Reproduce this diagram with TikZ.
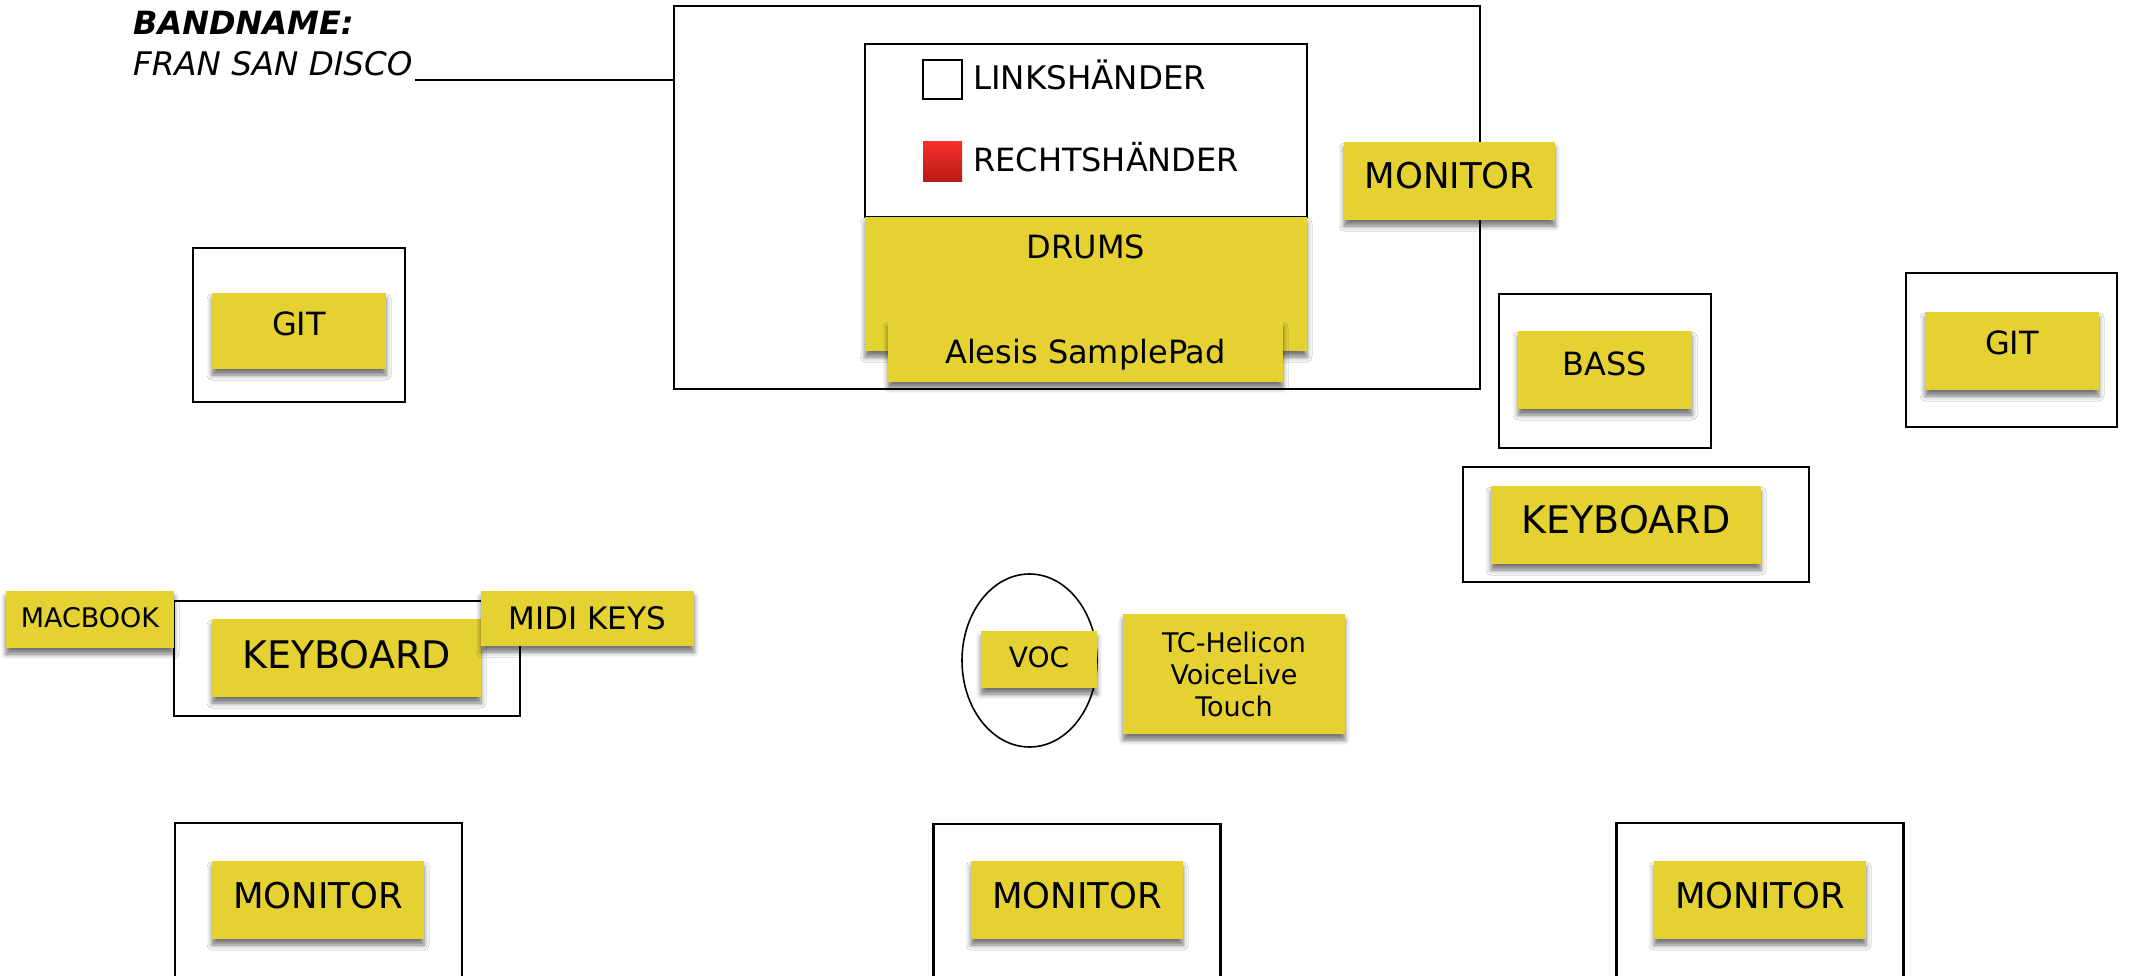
\documentclass[tikz,border=0pt]{standalone}
\usepackage{fontspec}
\setmainfont{DejaVu Sans}
\usetikzlibrary{shapes.geometric,shadows.blur}
\definecolor{notey}{RGB}{229,210,50}
\definecolor{redtop}{RGB}{246,48,40}
\definecolor{redbot}{RGB}{184,26,24}
\tikzset{
  frame/.style={draw=black, line width=2.2pt, fill=white, inner sep=0pt, minimum width=#1},
  notebase/.style={fill=notey, inner sep=0pt,
    blur shadow={shadow xshift=0pt, shadow yshift=-6pt, shadow blur radius=5pt, shadow opacity=55}},
  note/.style n args={3}{notebase,
    font=\fontsize{#1}{#1}\selectfont, text height=#2, text depth=#3},
  wh/.style 2 args={minimum width=#1, minimum height=#2},
}
\begin{document}
\begin{tikzpicture}[x=1pt,y=-1pt]
\useasboundingbox (0,0) rectangle (2134,976);
% title
\node[anchor=base west, inner sep=0pt, font=\fontsize{32}{32}\selectfont\bfseries\itshape] (band) at (133,35) {BANDNAME:};
\node[anchor=base west, inner sep=0pt, font=\fontsize{32.5}{32.5}\selectfont\itshape] (fran) at (133,76) {FRAN SAN DISCO};
% frames
\node[frame=806pt, minimum height=383pt] (drumarea) at (1077,197.5) {};
\coordinate (tline) at (415,80);
\draw[line width=2pt] (tline) -- (tline -| drumarea.west);
\node[frame=442pt, minimum height=173pt] (legend) at (1086,130.5) {};
\node[frame=212pt, minimum height=154pt] (boxgitl) at (299,325) {};
\node[frame=212pt, minimum height=154pt] (boxbass) at (1605,371) {};
\node[frame=211pt, minimum height=154pt] (boxgitr) at (2011.5,350) {};
\node[frame=346pt, minimum height=115pt] (boxkeyr) at (1636,524.5) {};
\node[frame=346pt, minimum height=115pt] (boxkeyl) at (347,658.5) {};
\node[frame=287pt, minimum height=154pt] (boxmon1) at (318.5,900) {};
\node[frame=287pt, minimum height=154pt] (boxmon2) at (1077,901) {};
\node[frame=287pt, minimum height=154pt] (boxmon3) at (1760,900) {};
\node[draw=black, line width=1.6pt, ellipse, inner sep=0pt, minimum width=135pt, minimum height=173pt] (vocring) at (1029.5,660.5) {};
% legend
\node[draw=black, line width=2pt, inner sep=0pt, minimum width=39pt, minimum height=39pt] (lsq) at (942.5,79.5) {};
\node[inner sep=0pt, minimum width=39pt, minimum height=40pt, top color=redtop, bottom color=redbot] (rsq) at (942.5,162) {};
\node[anchor=base west, inner sep=0pt, font=\fontsize{32.5}{32.5}\selectfont] (ltext) at (973,90) {LINKSHÄNDER};
\node[anchor=base west, inner sep=0pt, font=\fontsize{32}{32}\selectfont] (rtext) at (973,172) {RECHTSHÄNDER};
% notes
\node[note={32}{23pt}{73pt}, wh={442pt}{134pt}] (drums) at (1086,284) {DRUMS};
\node[note={32}{23pt}{0pt}, wh={395pt}{61pt}] (alesis) at (1085.5,351.5) {Alesis SamplePad};
\node[note={35.5}{26pt}{11pt}, wh={211pt}{78pt}] (montop) at (1449.5,181) {MONITOR};
\node[note={32}{23pt}{14pt}, wh={174pt}{76pt}] (gitl) at (299,331) {GIT};
\node[note={32}{23pt}{15pt}, wh={174pt}{78pt}] (gitr) at (2012,351) {GIT};
\node[note={32}{24pt}{14pt}, wh={174pt}{78pt}] (bass) at (1605,370) {BASS};
\node[note={38}{28pt}{11pt}, wh={270pt}{78pt}] (keyr) at (1626,525) {KEYBOARD};
\node[note={38}{28pt}{7pt}, wh={269pt}{78pt}] (keyl) at (346.5,658) {KEYBOARD};
\node[note={27}{20pt}{4pt}, wh={168pt}{57pt}] (macbook) at (90,619.5) {MACBOOK};
\node[note={31}{22pt}{0pt}, wh={213pt}{55pt}] (midi) at (587.5,618.5) {MIDI KEYS};
\node[note={28}{20pt}{4pt}, wh={116pt}{57pt}] (voc) at (1039,659.5) {VOC};
\node[notebase, wh={222pt}{120pt}, align=center, font=\fontsize{27}{32}\selectfont] (tc) at (1234,674) {TC-Helicon\\VoiceLive\\Touch};
\node[note={35.5}{26pt}{10pt}, wh={212pt}{78pt}] (mon1) at (318,900) {MONITOR};
\node[note={35.5}{26pt}{10pt}, wh={212pt}{78pt}] (mon2) at (1077,900) {MONITOR};
\node[note={35.5}{26pt}{10pt}, wh={212pt}{78pt}] (mon3) at (1760,900) {MONITOR};
\end{tikzpicture}
\end{document}
